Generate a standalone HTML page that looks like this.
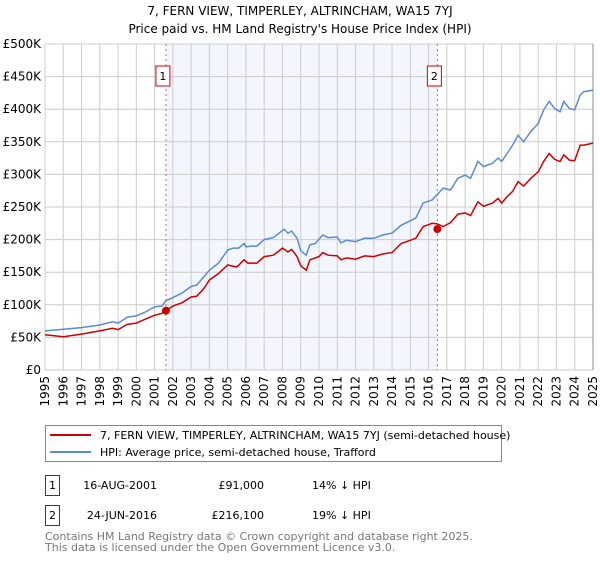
<!DOCTYPE html>
<html><head><meta charset="utf-8"><style>
body{margin:0;background:#fff;font-family:"DejaVu Sans","Liberation Sans",sans-serif;}
svg text{font-family:"DejaVu Sans","Liberation Sans",sans-serif;}
</style></head><body>
<svg id="chart" width="600" height="560" xmlns="http://www.w3.org/2000/svg">
<text x="300" y="15" text-anchor="middle" font-size="12">7, FERN VIEW, TIMPERLEY, ALTRINCHAM, WA15 7YJ</text>
<text x="300" y="33" text-anchor="middle" font-size="12">Price paid vs. HM Land Registry's House Price Index (HPI)</text>
<g id="plot"></g>
<g>
<rect x="45.5" y="425.5" width="456" height="36" fill="#fff" stroke="#888"/>
<line x1="50" y1="435" x2="91" y2="435" stroke="#cc0000" stroke-width="2"/>
<text x="100" y="439" font-size="11">7, FERN VIEW, TIMPERLEY, ALTRINCHAM, WA15 7YJ (semi-detached house)</text>
<line x1="50" y1="452" x2="91" y2="452" stroke="#5b8bd0" stroke-width="2"/>
<text x="100" y="456" font-size="11">HPI: Average price, semi-detached house, Trafford</text>
</g>
<g font-size="11">
<rect x="45.5" y="475.5" width="14" height="20" fill="#fff" stroke="#cc0000"/>
<text x="52.5" y="489" text-anchor="middle">1</text>
<text x="157" y="489" text-anchor="end">16-AUG-2001</text>
<text x="264" y="489" text-anchor="end">£91,000</text>
<text x="312" y="489">14% ↓ HPI</text>
</g>
<g font-size="11">
<rect x="45.5" y="505.5" width="14" height="20" fill="#fff" stroke="#cc0000"/>
<text x="52.5" y="519" text-anchor="middle">2</text>
<text x="157" y="519" text-anchor="end">24-JUN-2016</text>
<text x="264" y="519" text-anchor="end">£216,100</text>
<text x="312" y="519">19% ↓ HPI</text>
</g>
<text x="45" y="540" font-size="11" fill="#777">Contains HM Land Registry data © Crown copyright and database right 2025.</text>
<text x="45" y="551" font-size="11" fill="#777">This data is licensed under the Open Government Licence v3.0.</text>
</svg>
<script>
const hpiYears=[1995,1997,1998,1998.7,1999,1999.5,2000,2000.5,2001,2001.4,2001.6,2002,2002.5,2003,2003.3,2003.7,2004,2004.5,2005,2005.3,2005.6,2005.9,2006,2006.3,2006.6,2007,2007.5,2008,2008.1,2008.3,2008.5,2008.8,2009,2009.3,2009.5,2009.8,2010.2,2010.5,2011,2011.2,2011.5,2012,2012.5,2013,2013.5,2014,2014.5,2015,2015.3,2015.7,2016.2,2016.5,2016.8,2017.2,2017.6,2018,2018.3,2018.7,2019,2019.5,2019.8,2020,2020.3,2020.6,2020.9,2021.2,2021.6,2022,2022.3,2022.6,2022.9,2023.2,2023.4,2023.7,2024,2024.3,2024.5,2025];
const hpiValues=[60,65,69,74,72,81,83,89,97,98,106,111,118,128,130,143,153,164,184,187,187,194,189,190,190,200,203,214,216,210,213,202,183,176,192,194,207,203,204,195,199,197,202,202,207,210,222,229,233,256,261,270,279,276,294,299,294,320,312,317,325,320,332,345,360,350,366,378,399,412,401,396,412,401,399,422,427,429];
const paidYears=[1995,1996,1997,1998,1998.7,1999,1999.5,2000,2000.5,2001,2001.4,2001.62,2002,2002.5,2003,2003.3,2003.7,2004,2004.5,2005,2005.5,2005.9,2006.1,2006.6,2007,2007.5,2008,2008.3,2008.5,2008.8,2009,2009.3,2009.5,2010,2010.2,2010.5,2011,2011.2,2011.5,2012,2012.5,2013,2013.5,2014,2014.5,2015,2015.3,2015.7,2016.2,2016.48,2016.8,2017.2,2017.6,2018,2018.3,2018.7,2019,2019.5,2019.8,2020,2020.3,2020.6,2020.9,2021.2,2021.6,2022,2022.3,2022.6,2022.9,2023.2,2023.4,2023.7,2024,2024.3,2024.5,2025];
const paidValues=[54,51,55,60,64,62,70,72,78,84,87,91,98,103,112,113,125,138,148,161,158,169,164,164,174,176,187,181,185,174,160,153,169,174,180,176,175,169,172,170,175,174,178,180,194,199,202,220,225,224,220,226,239,241,237,258,251,256,263,256,266,274,289,282,294,304,320,332,323,320,330,322,321,345,345,348];
const saleYears=[2001.62,2016.48];
const saleValues=[91,216.1];
const saleLabels=["1","2"];
const yTicks=[0,50,100,150,200,250,300,350,400,450,500];
const yTickLabels=["£0","£50K","£100K","£150K","£200K","£250K","£300K","£350K","£400K","£450K","£500K"];
const xTicks=[1995,1996,1997,1998,1999,2000,2001,2002,2003,2004,2005,2006,2007,2008,2009,2010,2011,2012,2013,2014,2015,2016,2017,2018,2019,2020,2021,2022,2023,2024,2025];

const L=45,R=593,T=44,B=370;
const X=y=>L+(y-1995)/30*(R-L);
const Y=v=>B-v/500*(B-T);
const NS="http://www.w3.org/2000/svg";
const g=document.getElementById('plot');
function mk(tag,attrs,parent){const e=document.createElementNS(NS,tag);for(const k in attrs)e.setAttribute(k,attrs[k]);(parent||g).appendChild(e);return e;}
const shade=mk('rect',{x:X(saleYears[0]),y:T,width:X(saleYears[1])-X(saleYears[0]),height:B-T,fill:'#f3f6fd'});


yTicks.forEach((t,i)=>{
 const l=mk('line',{x1:L,x2:R,y1:Y(t),y2:Y(t),stroke:'#ccc'});
 
 
 const tx=mk('text',{x:L-4,y:Y(t)+4,'text-anchor':'end','font-size':'12'});
 tx.textContent=yTickLabels[i];
 
 
});
xTicks.forEach(t=>{
 const l=mk('line',{x1:X(t),x2:X(t),y1:T,y2:B,stroke:'#ccc'});
 
 
 const px=X(t)+4, py=B+6;
 const tx=mk('text',{x:px,y:py,'text-anchor':'end','font-size':'12'});
 tx.setAttribute('transform','rotate(-90 '+px+' '+py+')');
 tx.style.transform='rotate(-90deg)';
 tx.style.transformOrigin=px+'px '+py+'px';
 tx.textContent=t;
 
 
});
const ax=mk('line',{x1:R,x2:R,y1:T,y2:B,stroke:'#888'});


saleYears.forEach((s,i)=>{
 const l=mk('line',{x1:X(s),x2:X(s),y1:T,y2:B,stroke:'#e06060','stroke-dasharray':'2,3'});
 
 
 const bx=X(s)-3;
 const r=mk('rect',{x:bx-7,y:66,width:14,height:20,fill:'#fff',stroke:'#cc0000'});
 
 
 const tx=mk('text',{x:bx,y:80,'text-anchor':'middle','font-size':'11'});
 tx.textContent=saleLabels[i];
 
 
});
function line(xs,vs,col,name){
 const p=mk('polyline',{points:xs.map((x,i)=>X(x).toFixed(1)+','+Y(vs[i]).toFixed(1)).join(' '),fill:'none',stroke:col,'stroke-width':'1.5'});
 
 
}
line(hpiYears,hpiValues,'#5b8bd0','hpi-line');
line(paidYears,paidValues,'#cc0000','price-paid-line');
saleYears.forEach((s,i)=>{
 const c=mk('circle',{cx:X(s),cy:Y(saleValues[i]),r:4,fill:'#cc0000'});
 
 
});
</script>
</body></html>
